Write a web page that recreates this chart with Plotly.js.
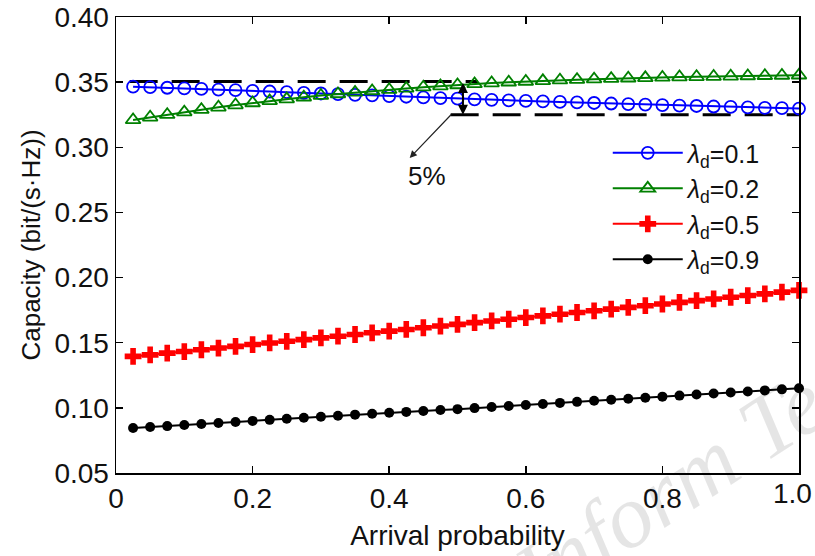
<!DOCTYPE html>
<html>
<head>
<meta charset="utf-8">
<script src="https://cdn.plot.ly/plotly-3.0.1.min.js"></script>
<style>html,body{margin:0;padding:0;background:#fff;}#chart{width:815px;height:556px;}</style>
</head>
<body>
<div id="chart"></div>
<script>
// Arrival probability (x)
const arrivalProb = [0.025,0.05,0.075,0.1,0.125,0.15,0.175,0.2,0.225,0.25,0.275,0.3,0.325,0.35,0.375,0.4,0.425,0.45,0.475,0.5,0.525,0.55,0.575,0.6,0.625,0.65,0.675,0.7,0.725,0.75,0.775,0.8,0.825,0.85,0.875,0.9,0.925,0.95,0.975,1.0];
// lambda_d = 0.1
const capL01 = [0.3465,0.3461,0.3457,0.3452,0.3448,0.3443,0.3438,0.3433,0.3428,0.3423,0.3418,0.3413,0.3408,0.3403,0.3398,0.3393,0.3388,0.3383,0.3378,0.3373,0.3368,0.3364,0.3360,0.3356,0.3352,0.3348,0.3344,0.3340,0.3336,0.3332,0.3328,0.3324,0.3320,0.3317,0.3313,0.3310,0.3306,0.3303,0.3300,0.3297];
// lambda_d = 0.2
const capL02 = [0.3210,0.3230,0.3250,0.3270,0.3289,0.3307,0.3324,0.3340,0.3356,0.3370,0.3384,0.3397,0.3409,0.3421,0.3432,0.3442,0.3452,0.3461,0.3470,0.3478,0.3486,0.3493,0.3499,0.3505,0.3510,0.3515,0.3519,0.3523,0.3527,0.3530,0.3533,0.3536,0.3539,0.3541,0.3543,0.3545,0.3547,0.3549,0.3551,0.3553];
// lambda_d = 0.5
const capL05 = [0.1395,0.1407,0.1420,0.1432,0.1446,0.1459,0.1472,0.1486,0.1498,0.1511,0.1524,0.1537,0.1550,0.1563,0.1576,0.1589,0.1602,0.1615,0.1628,0.1641,0.1654,0.1667,0.1680,0.1693,0.1706,0.1719,0.1732,0.1745,0.1758,0.1771,0.1784,0.1797,0.1810,0.1823,0.1836,0.1849,0.1862,0.1875,0.1888,0.1902];
// lambda_d = 0.9
const capL09 = [0.0846,0.0853,0.0860,0.0868,0.0876,0.0884,0.0892,0.0900,0.0908,0.0916,0.0924,0.0932,0.0940,0.0948,0.0955,0.0962,0.0969,0.0976,0.0983,0.0990,0.0998,0.1006,0.1014,0.1022,0.1030,0.1038,0.1046,0.1054,0.1062,0.1070,0.1078,0.1086,0.1094,0.1102,0.1110,0.1118,0.1126,0.1134,0.1142,0.1150];

const seriesNames = ['<i>λ</i><sub>d</sub>=0.1','<i>λ</i><sub>d</sub>=0.2','<i>λ</i><sub>d</sub>=0.5','<i>λ</i><sub>d</sub>=0.9'];

// Reference dashed levels
const refUpperX = [0.02, 0.53];
const refUpperY = [0.3505, 0.3505];
const refLowerX = [0.49, 1.0];
const refLowerY = [0.325, 0.325];

// x ticks; the last label (1.0) sits at the page edge, so it is drawn as a right-anchored annotation
const xTickVals = [0,0.2,0.4,0.6,0.8,1.0];
const xTickText = ['0','0.2','0.4','0.6','0.8',''];
const xLastTickVal = 1.0;
const xLastTickText = '1.0';

const FONT = 'Liberation Sans, Arial, sans-serif';

const traces = [
  {x: refUpperX, y: refUpperY, mode:'lines', line:{color:'#000', width:3, dash:'28px,14px'}, showlegend:false, hoverinfo:'skip'},
  {x: refLowerX, y: refLowerY, mode:'lines', line:{color:'#000', width:3, dash:'28px,14px'}, showlegend:false, hoverinfo:'skip'},
  {x: arrivalProb, y: capL01, name: seriesNames[0], mode:'lines+markers', cliponaxis:false,
   line:{color:'#0000ff', width:2}, marker:{symbol:'circle-open', size:12, color:'#0000ff', line:{width:1.8}}},
  {x: arrivalProb, y: capL02, name: seriesNames[1], mode:'lines+markers', cliponaxis:false,
   line:{color:'#008000', width:2}, marker:{symbol:'triangle-up-open', size:13, color:'#008000', line:{width:1.8}}},
  {x: arrivalProb, y: capL05, name: seriesNames[2], mode:'lines+markers', cliponaxis:false,
   line:{color:'#ff0000', width:2}, marker:{symbol:'cross', size:14, color:'#ff0000', line:{width:0}}},
  {x: arrivalProb, y: capL09, name: seriesNames[3], mode:'lines+markers', cliponaxis:false,
   line:{color:'#000000', width:2}, marker:{symbol:'circle', size:10, color:'#000000'}}
];

const layout = {
  width: 815, height: 556,
  margin: {l:116, r:16, t:17, b:83},
  paper_bgcolor:'#fff', plot_bgcolor:'#fff',
  font: {family: FONT, color:'#111', size: 24},
  showlegend: true,
  legend: {x: 0.72, y: 0.752, xanchor:'left', yanchor:'top', bgcolor:'rgba(0,0,0,0)', borderwidth:0,
           font:{family: FONT, size: 25, color:'#111'}, itemwidth: 70, tracegroupgap: 0},
  xaxis: {range:[0,1], tickvals: xTickVals, ticktext: xTickText, ticks:'inside', ticklen:7, tickwidth:1.5, tickcolor:'#000',
          showline:true, linecolor:'#000', linewidth:1.5, mirror:'ticks', showgrid:false, zeroline:false,
          tickfont:{family: FONT, size:28, color:'#111'},
          title:{text:'Arrival probability', font:{family: FONT, size:28, color:'#111'}, standoff: 12}},
  yaxis: {range:[0.05,0.40], dtick:0.05, tick0:0.05, tickformat:'.2f', ticks:'inside', ticklen:7, tickwidth:1.5, tickcolor:'#000',
          showline:true, linecolor:'#000', linewidth:1.5, mirror:'ticks', showgrid:false, zeroline:false,
          ticklabeloverflow:'allow',
          tickfont:{family: FONT, size:28, color:'#111'},
          title:{text:'Capacity (bit/(s·Hz))', font:{family: FONT, size:26, color:'#111'}, standoff: 6}},
  annotations: [
    {x:xLastTickVal, y:0, xref:'x', yref:'paper', xanchor:'right', yanchor:'top', xshift:15, yshift:-3,
     text:xLastTickText, showarrow:false, font:{family: FONT, size:28, color:'#111'}},
    {x:0.508, y:0.325, ax:0.508, ay:0.3505, xref:'x', yref:'y', axref:'x', ayref:'y', text:'', showarrow:true,
     arrowhead:2, startarrowhead:2, arrowside:'end+start', arrowsize:1, arrowwidth:2, arrowcolor:'#000'},
    {x:0.430, y:0.2918, ax:0.493, ay:0.3263, xref:'x', yref:'y', axref:'x', ayref:'y', text:'', showarrow:true,
     arrowhead:2, arrowsize:1.2, arrowwidth:1.2, arrowcolor:'#222'},
    {x:0.455, y:0.278, xref:'x', yref:'y', text:'5%', showarrow:false, font:{family: FONT, size:26, color:'#111'}},
    {x:0.835, y:-0.01, xref:'paper', yref:'paper', xanchor:'center', yanchor:'middle', text:'<i>Inform Tec</i>', showarrow:false, textangle:-33,
     font:{family:'Liberation Serif, Times New Roman, serif', size:90, color:'rgba(0,0,0,0.10)'}}
  ]
};

Plotly.newPlot('chart', traces, layout, {staticPlot:true, displayModeBar:false});
</script>
</body>
</html>
